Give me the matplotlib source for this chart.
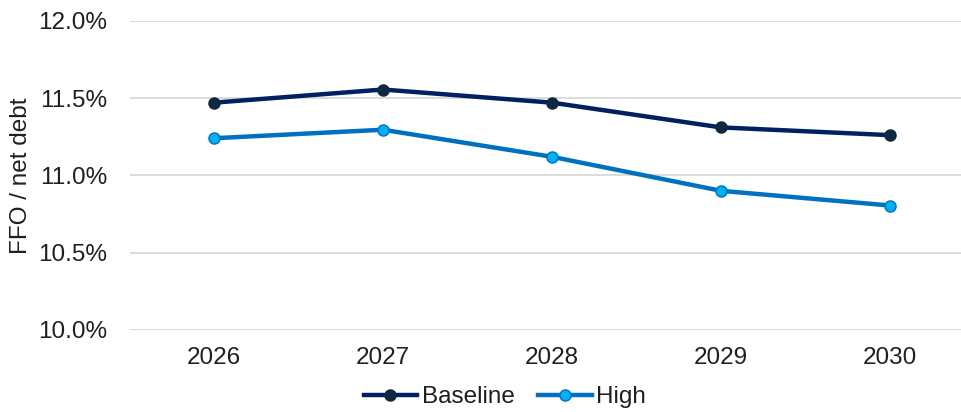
import matplotlib
matplotlib.use("Agg")
import matplotlib.pyplot as plt
from matplotlib.ticker import FuncFormatter

years = ["2026", "2027", "2028", "2029", "2030"]
baseline = [11.47, 11.555, 11.47, 11.31, 11.26]
high = [11.24, 11.295, 11.12, 10.90, 10.805]
yticks = [10.0, 10.5, 11.0, 11.5, 12.0]

plt.rcParams['font.family'] = ['Liberation Sans', 'DejaVu Sans']
FS = 17.5
TXT = "#1F1F1F"

fig = plt.figure(figsize=(9.62, 4.12), dpi=100)
ax = fig.add_axes([130/962, 82/412, 832/962, (330-20.7)/412])

x = list(range(len(years)))
ax.plot(x, baseline, color="#002060", lw=3.2, marker="o", markersize=8,
        markerfacecolor="#0E2841", markeredgecolor="#0E2841", markeredgewidth=1,
        label="Baseline", zorder=3, clip_on=False)
ax.plot(x, high, color="#0070C0", lw=3.2, marker="o", markersize=8,
        markerfacecolor="#00B0F0", markeredgecolor="#0070C0", markeredgewidth=1,
        label="High", zorder=3, clip_on=False)

ax.set_xlim(-0.497, 4.426)
ax.set_ylim(10.0, 12.0)
ax.set_yticks(yticks)
ax.yaxis.set_major_formatter(FuncFormatter(lambda v, p: f"{v:.1f}%"))
ax.set_xticks(x)
ax.set_xticklabels(years)
ax.grid(axis="y", color="#D9D9D9", lw=1.3)
ax.set_axisbelow(True)
for s in ax.spines.values():
    s.set_visible(False)
ax.tick_params(axis="both", length=0, labelsize=FS, colors=TXT)
ax.tick_params(axis="y", pad=16.5)
ax.tick_params(axis="x", pad=12)
ax.set_ylabel("FFO / net debt", fontsize=FS, color=TXT)
ax.yaxis.set_label_coords(-98/832, 0.5)

leg = fig.legend(loc="center", bbox_to_anchor=(505/962, 1 - 397/412), ncol=2,
                 frameon=False, fontsize=FS, handlelength=2.2, handletextpad=0.2,
                 columnspacing=0.95)
for t in leg.get_texts():
    t.set_color(TXT)

fig.savefig("out.png", dpi=100)
